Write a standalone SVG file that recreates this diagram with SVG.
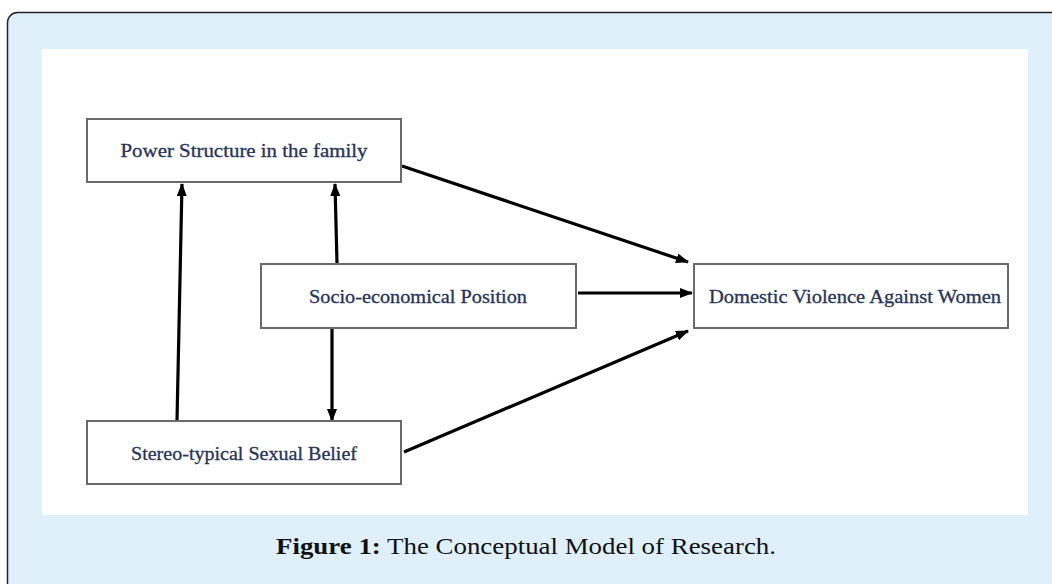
<svg xmlns="http://www.w3.org/2000/svg" width="1052" height="584" viewBox="0 0 1052 584">
<style>
.box{fill:#fff;stroke:#6a6a6a;stroke-width:2}
.lbl{font-family:"Liberation Serif","DejaVu Serif",serif;font-size:18px;fill:#27345a;stroke:#27345a;stroke-width:0.3;text-anchor:middle}
.arr{stroke:#000;stroke-width:3.2;fill:none;marker-end:url(#ah)}
.cap{font-family:"Liberation Serif","DejaVu Serif",serif;font-size:24px;fill:#111}
</style>
<defs>
<marker id="ah" viewBox="0 0 13 10" refX="12" refY="5" markerWidth="13" markerHeight="10" markerUnits="userSpaceOnUse" orient="auto">
<path d="M0,0 L13,5 L0,10 z" fill="#000"/>
</marker>
</defs>
<rect x="7.5" y="12.5" width="1070" height="600" rx="10" fill="#dff0fb" stroke="#222" stroke-width="1.5"/>
<rect x="42" y="49" width="986" height="466" fill="#fff"/>
<g id="connectors">
<line class="arr" x1="177" y1="421" x2="182" y2="184"/>
<line class="arr" x1="337" y1="264" x2="335" y2="184"/>
<line class="arr" x1="332" y1="329" x2="332" y2="421"/>
<line class="arr" x1="402" y1="166" x2="688" y2="262"/>
<line class="arr" x1="578" y1="293" x2="692" y2="293"/>
<line class="arr" x1="404" y1="452" x2="688" y2="331"/>
</g>
<g id="power">
<rect class="box" x="87" y="119" width="314" height="63"/>
<text class="lbl" x="244" y="157" textLength="247" lengthAdjust="spacingAndGlyphs">Power Structure in the family</text>
</g>
<g id="socio">
<rect class="box" x="261" y="264" width="315" height="64"/>
<text class="lbl" x="418" y="303" textLength="218" lengthAdjust="spacingAndGlyphs">Socio-economical Position</text>
</g>
<g id="domestic">
<rect class="box" x="694" y="264" width="314" height="64"/>
<text class="lbl" x="855" y="303" textLength="292" lengthAdjust="spacingAndGlyphs">Domestic Violence Against Women</text>
</g>
<g id="stereo">
<rect class="box" x="87" y="421" width="314" height="63"/>
<text class="lbl" x="244" y="460" textLength="226" lengthAdjust="spacingAndGlyphs">Stereo-typical Sexual Belief</text>
</g>
<text class="cap" x="276" y="554" textLength="500" lengthAdjust="spacingAndGlyphs"><tspan font-weight="bold">Figure 1:</tspan> The Conceptual Model of Research.</text>
</svg>
